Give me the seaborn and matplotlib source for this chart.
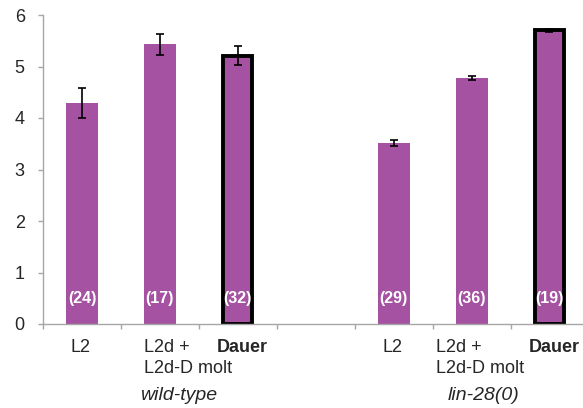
import numpy as np
import pandas as pd
import matplotlib
matplotlib.use("Agg")
import matplotlib.pyplot as plt
import matplotlib.transforms as mtransforms
import seaborn as sns

# ---- data ----
groups = ["wild-type", "lin-28(0)"]
stages = ["L2", "L2d +\nL2d-D molt", "Dauer"]
wt_means = [4.29, 5.43, 5.21]
wt_err = [0.29, 0.21, 0.18]
wt_n = [24, 17, 32]
lin_means = [3.51, 4.78, 5.70]
lin_err = [0.06, 0.04, 0.03]
lin_n = [29, 36, 19]

rows = []
for g, means, errs, ns in [(groups[0], wt_means, wt_err, wt_n),
                           (groups[1], lin_means, lin_err, lin_n)]:
    for s, m, e, n in zip(stages, means, errs, ns):
        rows.append({"slot": f"{g}|{s}", "group": g, "stage": s,
                     "mean": m, "err": e, "n": n})
df = pd.DataFrame(rows)

# one empty slot between the two genotypes
order = list(df["slot"][:3]) + ["gap"] + list(df["slot"][3:])

BAR = "#A452A1"
GREY = "#A6A6A6"

sns.set_style("white")
plt.rcParams["font.family"] = ["Liberation Sans", "DejaVu Sans"]

fig = plt.figure(figsize=(5.83, 4.08), dpi=100)
ax = fig.add_axes([43 / 583, 1 - 324 / 408, 1 - 43 / 583, (324 - 15) / 408])

sns.barplot(data=df, x="slot", y="mean", order=order, color=BAR,
            saturation=1, width=0.41, errorbar=None, ax=ax, zorder=2)

pos = np.array([order.index(s) for s in df["slot"]])
bars = sorted(ax.patches, key=lambda p: p.get_x())
for p, (_, r) in zip(bars, df.iterrows()):
    p.set_edgecolor("none")
    if r["stage"] == "Dauer":
        w = p.get_width()
        p.set_x(p.get_x() + 0.02)
        p.set_width(w - 0.04)
        p.set_edgecolor("black")
        p.set_linewidth(2.8)
        p.set_joinstyle("miter")

ax.errorbar(pos, df["mean"], yerr=df["err"], fmt="none", ecolor="black",
            elinewidth=1.2, capsize=3, capthick=1.2, zorder=3)

# counts inside the bars
for x, n in zip(pos, df["n"]):
    ax.text(x, 0.49, f"({n})", color="white", fontsize=11.5,
            fontweight="bold", ha="center", va="center", zorder=4)

# axes styling
ax.set_ylim(0, 6)
ax.set_xlim(-0.5, 6.43)
ax.set_yticks(range(0, 7))
ax.set_xticks(np.arange(-0.5, 6.5, 1))
ax.set_xticklabels([])
ax.set_xlabel("")
ax.set_ylabel("")
sns.despine(ax=ax)
for sp in ["left", "bottom"]:
    ax.spines[sp].set_color(GREY)
    ax.spines[sp].set_linewidth(1.0)
ax.tick_params(axis="y", direction="out", length=3.6, width=1.0, color=GREY,
               labelsize=13, pad=9.5, left=True)
ax.tick_params(axis="x", direction="out", length=3.6, width=1.0, color=GREY,
               bottom=True)

# category labels under the axis
tr = mtransforms.blended_transform_factory(ax.transData, ax.transAxes)
l2d_shift = {"wild-type": -0.205, "lin-28(0)": -0.46}
line_y = [-0.0896, -0.1576]
for x, (_, r) in zip(pos, df.iterrows()):
    if r["stage"] == "L2":
        ax.text(x - 0.02, line_y[0], r["stage"], transform=tr, fontsize=13,
                ha="center", va="baseline")
    elif r["stage"] == "Dauer":
        ax.text(x + 0.06, line_y[0], r["stage"], transform=tr, fontsize=13,
                fontweight="bold", ha="center", va="baseline")
    else:
        # wrapped label, one text per line, left aligned
        for ly, part in zip(line_y, r["stage"].split("\n")):
            ax.text(x + l2d_shift[r["group"]], ly, part, transform=tr,
                    fontsize=13, ha="left", va="baseline")

# genotype labels
group_x = {"wild-type": 1.244, "lin-28(0)": 5.154}
for g in groups:
    ax.text(group_x[g], -0.246, g, transform=tr, fontsize=14,
            fontstyle="italic", ha="center", va="baseline")

fig.savefig("out.png", dpi=100)
